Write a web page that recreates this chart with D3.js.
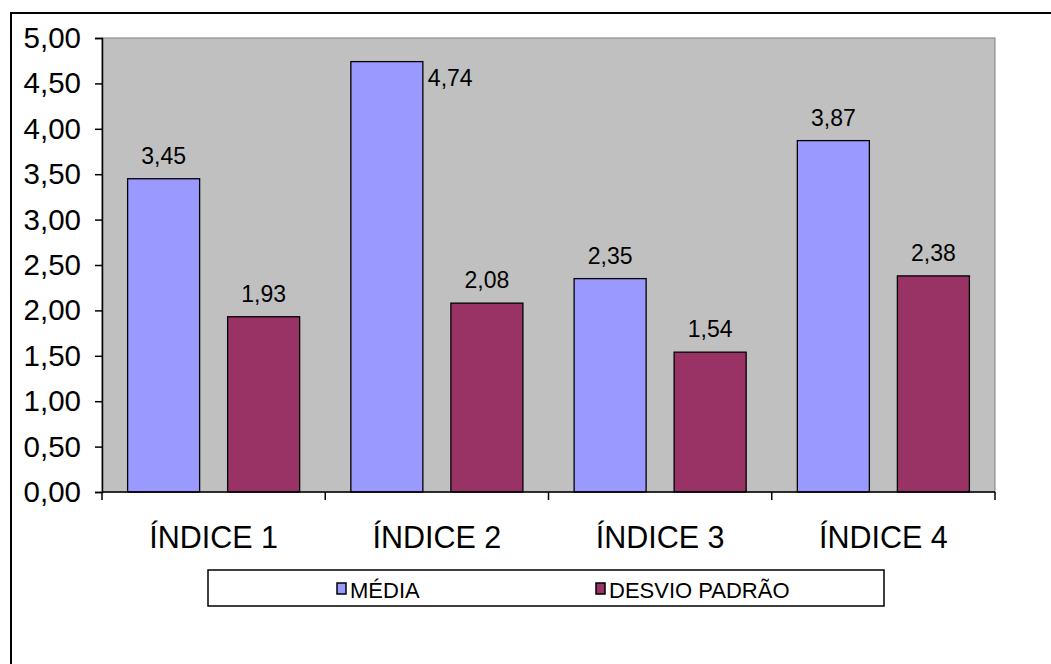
<!DOCTYPE html>
<html>
<head>
<meta charset="utf-8">
<script src="https://cdn.jsdelivr.net/npm/d3@7"></script>
<style>
  body { margin: 0; background: #fff; }
  text { font-family: "Liberation Sans", Arial, sans-serif; fill: #000; }
</style>
</head>
<body>
<div id="chart"></div>
<script>
// data
var categories = ["ÍNDICE 1", "ÍNDICE 2", "ÍNDICE 3", "ÍNDICE 4"];
var seriesNames = ["MÉDIA", "DESVIO PADRÃO"];
var media = [3.45, 4.74, 2.35, 3.87];
var desvio = [1.93, 2.08, 1.54, 2.38];
var yTicks = [0, 0.5, 1, 1.5, 2, 2.5, 3, 3.5, 4, 4.5, 5];
var colors = ["#9999FF", "#993366"];

var svgWidth = 1051;
var svgHeight = 664;

// plot area
var plot = { left: 102, top: 38, right: 995, bottom: 492 };

var svg = d3.select("#chart")
  .append("svg")
  .attr("width", svgWidth)
  .attr("height", svgHeight);

// outer chart border (runs off the page on right and bottom)
svg.append("rect")
  .attr("x", 11)
  .attr("y", 13)
  .attr("width", 1100)
  .attr("height", 700)
  .attr("fill", "#fff")
  .attr("stroke", "#000")
  .attr("stroke-width", 2);

var fmt = function(v) { return d3.format(".2f")(v).replace(".", ","); };

var x = d3.scaleBand()
  .domain(categories)
  .range([plot.left, plot.right])
  .padding(0);

var xInner = d3.scaleBand()
  .domain(seriesNames)
  .range([0, x.bandwidth()])
  .paddingInner(0.28)
  .paddingOuter(0.256);

var y = d3.scaleLinear()
  .domain([0, 5])
  .range([plot.bottom, plot.top]);

// gray background
svg.append("rect")
  .attr("x", plot.left)
  .attr("y", plot.top)
  .attr("width", plot.right - plot.left)
  .attr("height", plot.bottom - plot.top)
  .attr("fill", "#C0C0C0")
  .attr("stroke", "#808080")
  .attr("stroke-width", 1);

// bars
var rows = categories.map(function(c, i) {
  return { cat: c, values: [media[i], desvio[i]] };
});

var groups = svg.selectAll(".cat")
  .data(rows)
  .enter()
  .append("g")
  .attr("transform", d => `translate(${x(d.cat)},0)`);

groups.selectAll("rect")
  .data(d => d.values.map((v, j) => ({ name: seriesNames[j], value: v, j: j })))
  .enter()
  .append("rect")
  .attr("x", d => xInner(d.name))
  .attr("y", d => y(d.value))
  .attr("width", xInner.bandwidth())
  .attr("height", d => y(0) - y(d.value))
  .attr("fill", d => colors[d.j])
  .attr("stroke", "#000")
  .attr("stroke-width", 1.3);

// value labels (the tallest one sits beside its bar)
var beside = d => y(d.value) - 15 < plot.top + 10;
groups.selectAll(".lbl")
  .data(d => d.values.map((v, j) => ({ name: seriesNames[j], value: v })))
  .enter()
  .append("text")
  .attr("class", "lbl")
  .attr("x", d => beside(d)
    ? xInner(d.name) + xInner.bandwidth() + 5
    : xInner(d.name) + xInner.bandwidth() / 2)
  .attr("y", d => beside(d) ? y(d.value) + 24 : y(d.value) - 15)
  .attr("text-anchor", d => beside(d) ? "start" : "middle")
  .attr("font-size", "23px")
  .text(d => fmt(d.value));

// y axis
var leftAxis = d3.axisLeft(y)
  .tickValues(yTicks)
  .tickSize(7)
  .tickPadding(14)
  .tickFormat(fmt);

var yAxisG = svg.append("g")
  .attr("transform", `translate(${plot.left},0)`)
  .call(leftAxis);
yAxisG.select(".domain").attr("stroke", "#000").attr("stroke-width", 1.5);
yAxisG.selectAll(".tick line").attr("stroke", "#000").attr("stroke-width", 1.5);
yAxisG.selectAll(".tick text")
  .attr("font-size", "29.5px")
  .attr("font-family", "Liberation Sans, Arial, sans-serif")
  .attr("fill", "#000");

// x axis line and boundary ticks
svg.append("line")
  .attr("x1", plot.left).attr("x2", plot.right)
  .attr("y1", plot.bottom).attr("y2", plot.bottom)
  .attr("stroke", "#000").attr("stroke-width", 1.5);

var boundaries = categories.map(c => x(c)).concat([x.range()[1]]);
svg.selectAll(".xtick")
  .data(boundaries)
  .enter()
  .append("line")
  .attr("x1", d => d).attr("x2", d => d)
  .attr("y1", plot.bottom).attr("y2", plot.bottom + 8)
  .attr("stroke", "#000").attr("stroke-width", 1.5);

svg.selectAll(".xlabel")
  .data(categories)
  .enter()
  .append("text")
  .attr("x", d => x(d) + x.bandwidth() / 2)
  .attr("y", 548)
  .attr("text-anchor", "middle")
  .attr("font-size", "30.5px")
  .text(d => d);

// legend
svg.append("rect")
  .attr("x", 208)
  .attr("y", 570)
  .attr("width", 676)
  .attr("height", 36)
  .attr("fill", "#fff")
  .attr("stroke", "#000")
  .attr("stroke-width", 1.5);

var legendX = [337, 596];
var legend = svg.selectAll(".legend")
  .data(seriesNames)
  .enter()
  .append("g")
  .attr("transform", (d, i) => `translate(${legendX[i]},583)`);

legend.append("rect")
  .attr("width", 9)
  .attr("height", 11)
  .attr("fill", (d, i) => colors[i])
  .attr("stroke", "#000")
  .attr("stroke-width", 1.5);

legend.append("text")
  .attr("x", 13)
  .attr("y", 15)
  .attr("font-size", "22px")
  .text(d => d);
</script>
</body>
</html>
